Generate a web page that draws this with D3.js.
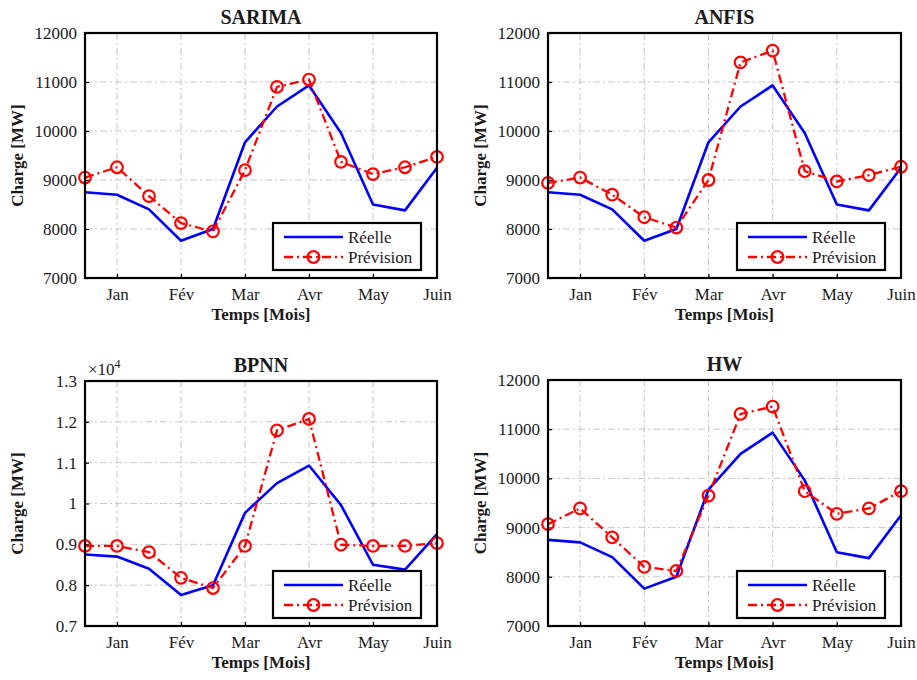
<!DOCTYPE html>
<html>
<head>
<meta charset="utf-8">
<script src="https://cdn.jsdelivr.net/npm/d3@7"></script>
<style>
  body { margin: 0; background: #fff; }
  svg text { fill: #1a1a1a; }
</style>
</head>
<body>
<div id="chart"></div>
<script>
'use strict';

// month tick labels (placed on every second sample)
var monthLabels = ['Jan', 'Fév', 'Mar', 'Avr', 'May', 'Juin'];
var tickIndex = [1, 3, 5, 7, 9, 11];

// measured load, same curve in all four panels
var reelle = [8750, 8700, 8400, 7760, 8000, 9770, 10500, 10930, 9960, 8500, 8380, 9250];

// forecasts
var sarima = [9050, 9260, 8670, 8120, 7950, 9200, 10900, 11050, 9370, 9120, 9260, 9470];
var anfis  = [8940, 9050, 8700, 8240, 8030, 9000, 11400, 11640, 9180, 8970, 9100, 9270];
var bpnn   = [8960, 8960, 8810, 8180, 7930, 8960, 11790, 12070, 8990, 8960, 8960, 9030];
var hw     = [9070, 9390, 8800, 8200, 8120, 9650, 11310, 11460, 9740, 9280, 9390, 9740];

// y tick labels
var yTicksMW = [7000, 8000, 9000, 10000, 11000, 12000];
var yTicksBP = [7000, 8000, 9000, 10000, 11000, 12000, 13000];
var yLabelsBP = ['0.7', '0.8', '0.9', '1', '1.1', '1.2', '1.3'];

var width = 917, height = 680;
var serif = '"Liberation Serif", "Times New Roman", Tinos, serif';

var svg = d3.select('#chart').append('svg')
  .attr('width', width)
  .attr('height', height)
  .attr('font-family', serif);

/**
 * Draw one MATLAB-style subplot.
 */
var drawPanel = function(opt) {
  var g = svg.append('g');
  var x = d3.scaleLinear().domain([0, 11]).range([opt.left, opt.right]);
  var y = d3.scaleLinear().domain(opt.yDomain).range([opt.bottom, opt.top]);

  // grid
  g.selectAll('.gx').data(tickIndex).enter().append('line')
    .attr('x1', function(d) { return x(d); })
    .attr('x2', function(d) { return x(d); })
    .attr('y1', opt.top).attr('y2', opt.bottom)
    .attr('stroke', '#c8c8c8').attr('stroke-width', 1)
    .attr('stroke-dasharray', '7,3,2,3');
  g.selectAll('.gy').data(opt.yTicks).enter().append('line')
    .attr('x1', opt.left).attr('x2', opt.right)
    .attr('y1', function(d) { return y(d); })
    .attr('y2', function(d) { return y(d); })
    .attr('stroke', '#c8c8c8').attr('stroke-width', 1)
    .attr('stroke-dasharray', '7,3,2,3');

  // axes (inward ticks)
  var xAxis = d3.axisBottom(x).tickValues(tickIndex)
    .tickSize(-4).tickPadding(10)
    .tickFormat(function(d, i) { return monthLabels[i]; });
  var gx = g.append('g').attr('transform', 'translate(0,' + opt.bottom + ')').call(xAxis);
  var yAxis = d3.axisLeft(y).tickValues(opt.yTicks)
    .tickSize(-4).tickPadding(8)
    .tickFormat(function(d, i) { return opt.yLabels ? opt.yLabels[i] : d; });
  var gy = g.append('g').attr('transform', 'translate(' + opt.left + ',0)').call(yAxis);
  [gx, gy].forEach(function(a) {
    a.attr('font-family', serif).attr('font-size', 17);
    a.select('.domain').remove();
    a.selectAll('line').attr('stroke', '#000').attr('stroke-width', 1.2);
    a.selectAll('text').attr('fill', '#1a1a1a');
  });
  gx.selectAll('text').attr('dy', '0.71em');

  // series
  var line = d3.line()
    .x(function(d, i) { return x(i); })
    .y(function(d) { return y(d); });
  g.append('path').datum(reelle)
    .attr('d', line).attr('fill', 'none')
    .attr('stroke', '#0000ff').attr('stroke-width', 2.6)
    .attr('stroke-linejoin', 'round');
  g.append('path').datum(opt.prev)
    .attr('d', line).attr('fill', 'none')
    .attr('stroke', '#ff0000').attr('stroke-width', 2.3)
    .attr('stroke-dasharray', '9,4,2,4');
  g.selectAll('.mk').data(opt.prev).enter().append('circle')
    .attr('cx', function(d, i) { return x(i); })
    .attr('cy', function(d) { return y(d); })
    .attr('r', 5.8).attr('fill', 'none')
    .attr('stroke', '#ff0000').attr('stroke-width', 2.2);

  // box
  g.append('rect')
    .attr('x', opt.left).attr('y', opt.top)
    .attr('width', opt.right - opt.left).attr('height', opt.bottom - opt.top)
    .attr('fill', 'none').attr('stroke', '#000').attr('stroke-width', 2.2);

  // title and labels
  g.append('text')
    .attr('x', (opt.left + opt.right) / 2).attr('y', opt.top - 9)
    .attr('text-anchor', 'middle').attr('font-weight', 'bold').attr('font-size', 20)
    .text(opt.title);
  g.append('text')
    .attr('x', (opt.left + opt.right) / 2).attr('y', opt.bottom + 42)
    .attr('text-anchor', 'middle').attr('font-weight', 'bold').attr('font-size', 17)
    .text('Temps [Mois]');
  g.append('text')
    .attr('transform', 'translate(' + (opt.left - 62) + ',' + ((opt.top + opt.bottom) / 2) + ') rotate(-90)')
    .attr('text-anchor', 'middle').attr('font-weight', 'bold').attr('font-size', 17)
    .text('Charge [MW]');

  if (opt.exponent) {
    var ex = g.append('text')
      .attr('x', opt.left + 3).attr('y', opt.top - 6)
      .attr('font-size', 17);
    ex.append('tspan').text('×10');
    ex.append('tspan').attr('font-size', 12).attr('dy', -7).text('4');
  }

  // legend
  var lw = 148, lh = 47;
  var lx = opt.right - 16 - lw, ly = opt.bottom - 8 - lh;
  var lg = g.append('g').attr('transform', 'translate(' + lx + ',' + ly + ')');
  lg.append('rect').attr('width', lw).attr('height', lh)
    .attr('fill', '#fff').attr('stroke', '#000').attr('stroke-width', 2.2);
  lg.append('line').attr('x1', 11).attr('x2', 70).attr('y1', 14).attr('y2', 14)
    .attr('stroke', '#0000ff').attr('stroke-width', 2.6);
  lg.append('line').attr('x1', 11).attr('x2', 70).attr('y1', 34).attr('y2', 34)
    .attr('stroke', '#ff0000').attr('stroke-width', 2.3).attr('stroke-dasharray', '9,4,2,4');
  lg.append('circle').attr('cx', 40.5).attr('cy', 34).attr('r', 5.8)
    .attr('fill', 'none').attr('stroke', '#ff0000').attr('stroke-width', 2.2);
  lg.append('text').attr('x', 75).attr('y', 14).attr('dy', '0.35em')
    .attr('font-size', 17).text('Réelle');
  lg.append('text').attr('x', 75).attr('y', 34).attr('dy', '0.35em')
    .attr('font-size', 17).text('Prévision');
};

drawPanel({ title: 'SARIMA', prev: sarima, left: 85, right: 437, top: 33, bottom: 278,
  yDomain: [7000, 12000], yTicks: yTicksMW });
drawPanel({ title: 'ANFIS', prev: anfis, left: 548, right: 901, top: 33, bottom: 278,
  yDomain: [7000, 12000], yTicks: yTicksMW });
drawPanel({ title: 'BPNN', prev: bpnn, left: 85, right: 437, top: 381, bottom: 626,
  yDomain: [7000, 13000], yTicks: yTicksBP, yLabels: yLabelsBP, exponent: true });
drawPanel({ title: 'HW', prev: hw, left: 548, right: 901, top: 380, bottom: 626,
  yDomain: [7000, 12000], yTicks: yTicksMW });
</script>
</body>
</html>
